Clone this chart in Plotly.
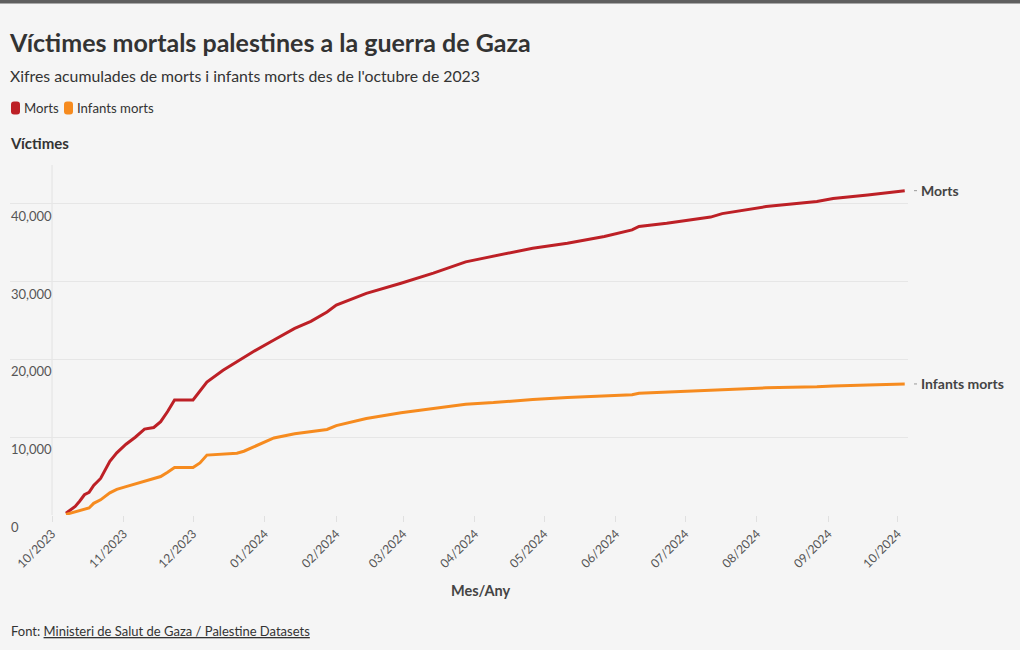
import plotly.graph_objects as go

# ---- data ----
dates = [
    "2023-10-07", "2023-10-11", "2023-10-13", "2023-10-15", "2023-10-17", "2023-10-19",
    "2023-10-22", "2023-10-26", "2023-10-29", "2023-11-02", "2023-11-06", "2023-11-10",
    "2023-11-14", "2023-11-17", "2023-11-20", "2023-11-23", "2023-12-01", "2023-12-04",
    "2023-12-07", "2023-12-14", "2023-12-20", "2023-12-23", "2023-12-27", "2024-01-05",
    "2024-01-14", "2024-01-21", "2024-01-28", "2024-02-01", "2024-02-14", "2024-02-29",
    "2024-03-14", "2024-03-28", "2024-04-09", "2024-04-26", "2024-05-11", "2024-05-27",
    "2024-06-08", "2024-06-11", "2024-06-23", "2024-07-12", "2024-07-17", "2024-08-05",
    "2024-08-27", "2024-09-03", "2024-09-18", "2024-10-04",
]
morts = [
    230, 1100, 1800, 2600, 2900, 3800,
    4700, 6900, 8000, 9100, 10000, 11050,
    11250, 12000, 13300, 14800, 14800, 15900,
    17100, 18600, 19700, 20300, 21000, 22500,
    24000, 24900, 26100, 27000, 28500, 29800,
    31100, 32550, 33250, 34300, 34950, 35800,
    36650, 37100, 37500, 38300, 38750, 39650,
    40300, 40700, 41150, 41700,
]
infants = [
    80, 400, 550, 720, 900, 1500,
    1950, 2850, 3300, 3650, 4000, 4350,
    4700, 4950, 5500, 6100, 6100, 6700,
    7700, 7850, 7950, 8200, 8700, 9900,
    10450, 10700, 11000, 11500, 12400, 13150,
    13700, 14250, 14450, 14850, 15100, 15250,
    15450, 15650, 15800, 16050, 16150, 16350,
    16500, 16600, 16700, 16850,
]
series_names = ["Morts", "Infants morts"]
series_colors = ["#bd2026", "#f68b1f"]
month_ticks = ["2023-10-01", "2023-11-01", "2023-12-01", "2024-01-01", "2024-02-01",
               "2024-03-01", "2024-04-01", "2024-05-01", "2024-06-01", "2024-07-01",
               "2024-08-01", "2024-09-01", "2024-10-01"]
month_labels = ["10/2023", "11/2023", "12/2023", "01/2024", "02/2024", "03/2024", "04/2024",
                "05/2024", "06/2024", "07/2024", "08/2024", "09/2024", "10/2024"]
y_ticks = [0, 10000, 20000, 30000, 40000]

# ---- layout geometry ----
W, H = 1020, 650
ML, MR, MT, MB = 10, 112, 165, 135
PW, PH = W - ML - MR, H - MT - MB
FONT = "Lato, 'Source Sans Pro', sans-serif"
TXT = "#333333"


def px2x(px):
    return (px - ML) / PW


def py2y(py):
    return (H - MB - py) / PH


fig = go.Figure()
for name, vals, col in zip(series_names, [morts, infants], series_colors):
    fig.add_trace(go.Scatter(x=dates, y=vals, mode="lines", name=name,
                             line=dict(color=col, width=3), showlegend=False))

annotations = []
shapes = []

# top bar
shapes.append(dict(type="rect", xref="paper", yref="paper", x0=px2x(-2), x1=px2x(W + 2),
                   y0=py2y(3.5), y1=py2y(-2), fillcolor="#5f5f5f", line=dict(width=0), layer="above"))
# axis line at first month
shapes.append(dict(type="line", xref="x", yref="paper", x0=month_ticks[0], x1=month_ticks[0],
                   y0=0, y1=1, line=dict(color="#e2e2e2", width=1), layer="below"))

# subtitle
annotations.append(dict(text="Xifres acumulades de morts i infants morts des de l'octubre de 2023",
                        xref="paper", yref="paper", x=px2x(8), y=py2y(75), xanchor="left",
                        yanchor="middle", showarrow=False, font=dict(size=15.8, color=TXT, family=FONT)))
# legend (manual)
leg_x = [11, 64]
for i, (name, col) in enumerate(zip(series_names, series_colors)):
    shapes.append(dict(type="path", xref="paper", yref="paper", xsizemode="pixel", ysizemode="pixel",
                       xanchor=px2x(leg_x[i]), yanchor=py2y(108),
                       path="M 3 -6.5 L 6 -6.5 Q 9 -6.5 9 -3.5 L 9 3.5 Q 9 6.5 6 6.5 L 3 6.5 Q 0 6.5 0 3.5 L 0 -3.5 Q 0 -6.5 3 -6.5 Z",
                       fillcolor=col, line=dict(width=0)))
    annotations.append(dict(text=name, xref="paper", yref="paper", x=px2x(leg_x[i] + 11), y=py2y(108),
                            xanchor="left", yanchor="middle", showarrow=False,
                            font=dict(size=13.2, color=TXT, family=FONT)))
# y axis title
annotations.append(dict(text="<b>Víctimes</b>", xref="paper", yref="paper", x=px2x(8), y=py2y(143),
                        xanchor="left", yanchor="middle", showarrow=False,
                        font=dict(size=15, color=TXT, family=FONT)))
# y tick labels (left aligned, just below each gridline)
for v in y_ticks:
    annotations.append(dict(text=f"{v:,}", xref="paper", yref="y", x=px2x(9), y=v,
                            xanchor="left", yanchor="top", yshift=-2, showarrow=False,
                            font=dict(size=13, color="#555555", family=FONT)))
# x axis title
annotations.append(dict(text="<b>Mes/Any</b>", xref="paper", yref="paper", x=px2x(481), y=py2y(590),
                        xanchor="center", yanchor="middle", showarrow=False,
                        font=dict(size=14.5, color="#444444", family=FONT)))
# source
annotations.append(dict(text="Font: <u>Ministeri de Salut de Gaza / Palestine Datasets</u>",
                        xref="paper", yref="paper", x=px2x(9), y=py2y(631), xanchor="left",
                        yanchor="middle", showarrow=False, font=dict(size=13, color=TXT, family=FONT)))
# end labels
for name, vals in zip(series_names, [morts, infants]):
    shapes.append(dict(type="line", xref="paper", yref="y", xsizemode="pixel", xanchor=1,
                       x0=6, x1=9, y0=vals[-1], y1=vals[-1], line=dict(color="#999999", width=1)))
    annotations.append(dict(text="<b>" + name + "</b>", xref="paper", yref="y", x=1, y=vals[-1],
                            xanchor="left", yanchor="middle", xshift=11, showarrow=False,
                            font=dict(size=14, color="#444444", family=FONT)))

fig.update_layout(
    width=W, height=H,
    margin=dict(l=ML, r=MR, t=MT, b=MB, pad=0),
    paper_bgcolor="#f5f5f5", plot_bgcolor="#f5f5f5",
    font=dict(family=FONT, color=TXT),
    title=dict(text="<b>Víctimes mortals palestines a la guerra de Gaza</b>", xref="container",
               yref="container", x=10 / W, y=1 - 43 / H, xanchor="left", yanchor="middle",
               font=dict(size=25, color=TXT, family=FONT)),
    showlegend=False,
    annotations=annotations,
    shapes=shapes,
    hovermode="x unified",
)
fig.update_xaxes(
    type="date",
    range=["2023-09-12 19:00", "2024-10-05 10:00"],
    tickvals=month_ticks, ticktext=month_labels, tickangle=-45,
    showgrid=False, zeroline=False, showline=False,
    ticks="outside", ticklen=6, tickcolor="#e0e0e0",
    tickfont=dict(size=12.2, color="#555555", family=FONT),
)
fig.update_yaxes(
    range=[0, 45000], tickvals=y_ticks,
    showgrid=True, gridcolor="#e6e6e6", gridwidth=1, zeroline=False, showline=False,
    ticks="", showticklabels=False,
)

fig.write_html("out.html", config={"displayModeBar": False},
               post_script="document.body.style.margin='0px';document.body.style.overflow='hidden';")
